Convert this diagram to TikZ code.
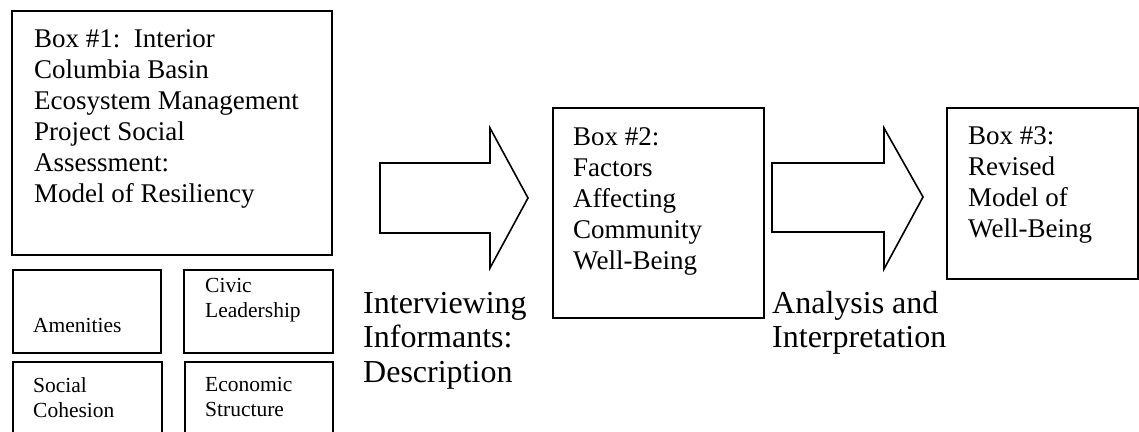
\documentclass[tikz,border=0pt]{standalone}
\usepackage{fontspec}
\setmainfont{Liberation Serif}
\begin{document}
\begin{tikzpicture}[x=1pt,y=-1pt,
  frame/.style={draw, line width=1.6pt, anchor=north west, inner sep=0pt},
  boxtext/.style={anchor=north west, inner sep=0pt, align=left, font=\fontsize{27}{31}\selectfont},
  smalltext/.style={anchor=north west, inner sep=0pt, align=left, font=\fontsize{21.5}{25}\selectfont},
  labeltext/.style={anchor=north west, inner sep=0pt, align=left, font=\fontsize{32}{34.5}\selectfont},
  blockarrow/.style={draw, line width=1.6pt, line join=miter}]
\useasboundingbox (0,0) rectangle (1139,431);
% Box 1
\node[frame, minimum width=320pt, minimum height=244pt] (b1) at (11,10) {};
\node[boxtext] (t1) at (34,29) {Box \#1:\ \ Interior\\Columbia Basin\\Ecosystem Management\\Project Social\\Assessment:\\Model of Resiliency};
% small boxes
\node[frame, minimum width=148pt, minimum height=83pt] (am) at (12,269) {};
\node[smalltext] (tam) at (33,318) {Amenities};
\node[frame, minimum width=149pt, minimum height=83pt] (cl) at (183,269) {};
\node[smalltext] (tcl) at (205,278) {Civic\\Leadership};
\node[frame, minimum width=149pt, minimum height=90pt] (sc) at (12,361) {};
\node[smalltext] (tsc) at (33,377) {Social\\Cohesion};
\node[frame, minimum width=148pt, minimum height=90pt] (es) at (184,361) {};
\node[smalltext] (tes) at (205,377) {Economic\\Structure};
% Box 2
\node[frame, minimum width=211pt, minimum height=210pt] (b2) at (552,107) {};
\node[boxtext] (t2) at (573,127) {Box \#2:\\Factors\\Affecting\\Community\\Well-Being};
% Box 3
\node[frame, minimum width=191pt, minimum height=171pt] (b3) at (946,107) {};
\node[boxtext] (t3) at (968,126) {Box \#3:\\Revised\\Model of\\Well-Being};
% arrows
\draw[blockarrow] (380,163) -- (490,163) -- (490,128) -- (528,198) -- (490,268) -- (490,233) -- (380,233) -- cycle;
\draw[blockarrow] (772,163) -- (884,163) -- (884,128) -- (923,197) -- (884,269) -- (884,232) -- (772,232) -- cycle;
% labels
\node[labeltext] (l1) at (363,292) {Interviewing\\Informants:\\Description};
\node[labeltext] (l2) at (772,291) {Analysis and\\Interpretation};
\end{tikzpicture}
\end{document}
